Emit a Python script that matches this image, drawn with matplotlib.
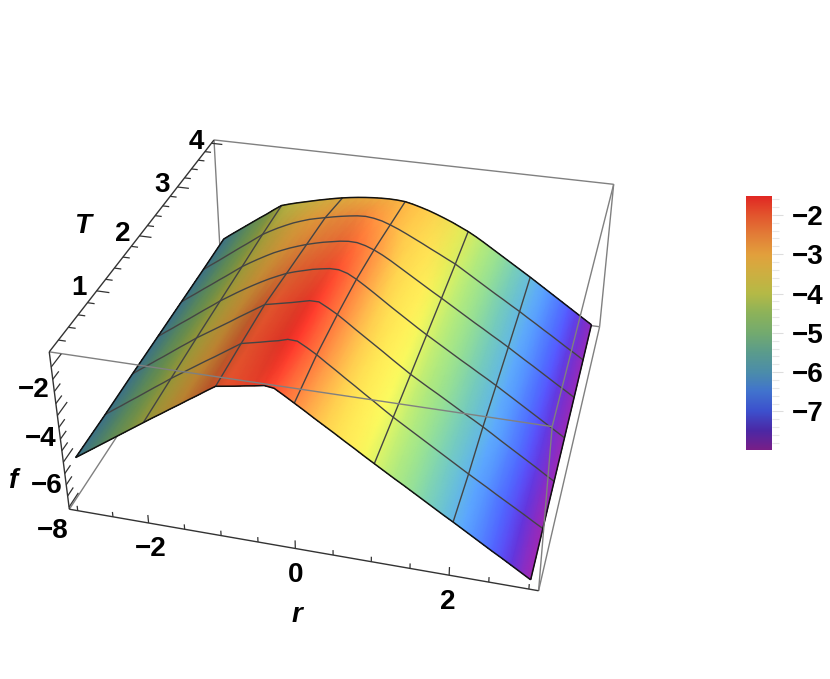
import matplotlib
matplotlib.use("Agg")
import matplotlib.pyplot as plt
import numpy as np
from matplotlib.cm import ScalarMappable
from matplotlib.colors import LinearSegmentedColormap, Normalize
from mpl_toolkits.mplot3d import proj3d
from mpl_toolkits.mplot3d.art3d import Line3DCollection

plt.rcParams["font.family"] = ["Liberation Sans", "DejaVu Sans"]

r_values = [-3 + 0.125 * i for i in range(49)]
T_values = [0.1, 0.75, 1.4, 2.05, 2.7, 3.35, 4.0]

f_T0 = [-5.98, -5.73, -5.48, -5.23, -4.98, -4.73, -4.48, -4.23, -3.98,
        -3.73, -3.49, -3.24, -3.00, -2.75, -2.51, -2.26, -2.02,
        -1.96, -1.90, -1.83, -1.77, -1.70, -1.75, -1.98, -2.22,
        -2.46, -2.71, -2.95, -3.19, -3.44, -3.68, -3.93, -4.17,
        -4.41, -4.65, -4.88, -5.12, -5.36, -5.60, -5.84, -6.07,
        -6.31, -6.55, -6.79, -7.03, -7.26, -7.50, -7.74, -7.98]
f_T1 = [-6.00, -5.74, -5.49, -5.23, -4.98, -4.72, -4.46, -4.21, -3.95,
        -3.71, -3.47, -3.23, -2.99, -2.76, -2.52, -2.28, -2.04,
        -1.96, -1.88, -1.79, -1.71, -1.60, -1.62, -1.83, -2.06,
        -2.33, -2.59, -2.86, -3.12, -3.39, -3.65, -3.92, -4.18,
        -4.42, -4.66, -4.90, -5.14, -5.38, -5.62, -5.86, -6.10,
        -6.33, -6.56, -6.80, -7.03, -7.26, -7.49, -7.73, -7.96]
f_T2 = [-5.98, -5.72, -5.47, -5.21, -4.96, -4.70, -4.44, -4.19, -3.93,
        -3.70, -3.47, -3.24, -3.01, -2.77, -2.54, -2.31, -2.08,
        -2.00, -1.92, -1.84, -1.75, -1.66, -1.66, -1.86, -2.08,
        -2.34, -2.61, -2.87, -3.13, -3.39, -3.66, -3.92, -4.18,
        -4.41, -4.64, -4.86, -5.09, -5.32, -5.55, -5.77, -6.00,
        -6.24, -6.49, -6.73, -6.97, -7.21, -7.45, -7.70, -7.94]
f_T3 = [-5.98, -5.72, -5.47, -5.21, -4.96, -4.70, -4.44, -4.19, -3.93,
        -3.70, -3.47, -3.25, -3.04, -2.84, -2.65, -2.48, -2.32,
        -2.20, -2.10, -2.00, -1.93, -1.87, -1.87, -1.98, -2.18,
        -2.42, -2.67, -2.93, -3.19, -3.44, -3.69, -3.94, -4.18,
        -4.41, -4.64, -4.87, -5.10, -5.32, -5.55, -5.77, -6.00,
        -6.24, -6.48, -6.72, -6.96, -7.20, -7.44, -7.68, -7.92]
f_T4 = [-5.98, -5.72, -5.47, -5.21, -4.96, -4.70, -4.45, -4.19, -3.93,
        -3.71, -3.50, -3.30, -3.11, -2.95, -2.80, -2.67, -2.55,
        -2.45, -2.36, -2.29, -2.22, -2.18, -2.19, -2.28, -2.42,
        -2.60, -2.81, -3.04, -3.27, -3.50, -3.73, -3.96, -4.18,
        -4.41, -4.64, -4.87, -5.10, -5.32, -5.55, -5.77, -6.00,
        -6.24, -6.48, -6.71, -6.95, -7.19, -7.43, -7.66, -7.90]
f_T5 = [-5.98, -5.72, -5.47, -5.21, -4.95, -4.69, -4.44, -4.18, -3.92,
        -3.72, -3.53, -3.36, -3.20, -3.07, -2.95, -2.86, -2.78,
        -2.70, -2.63, -2.57, -2.52, -2.50, -2.54, -2.62, -2.75,
        -2.90, -3.07, -3.25, -3.43, -3.62, -3.80, -3.99, -4.17,
        -4.40, -4.63, -4.86, -5.09, -5.32, -5.54, -5.77, -5.99,
        -6.23, -6.46, -6.70, -6.93, -7.17, -7.41, -7.64, -7.88]
f_T6 = [-5.96, -5.70, -5.45, -5.20, -4.95, -4.70, -4.46, -4.20, -3.96,
        -3.85, -3.75, -3.66, -3.57, -3.48, -3.40, -3.32, -3.25,
        -3.19, -3.14, -3.10, -3.07, -3.05, -3.04, -3.05, -3.08,
        -3.16, -3.26, -3.37, -3.50, -3.64, -3.79, -3.96, -4.13,
        -4.33, -4.55, -4.78, -5.01, -5.24, -5.47, -5.70, -5.93,
        -6.17, -6.41, -6.65, -6.89, -7.13, -7.37, -7.61, -7.85]
f_rows = [f_T0, f_T1, f_T2, f_T3, f_T4, f_T5, f_T6]

r_major = [-2, 0, 2]
T_major = [1, 2, 3, 4]
f_major = [-2, -4, -6, -8]
bar_ticks = [-2, -3, -4, -5, -6, -7]

# colours of the legend bar, from its bottom to its top
bar_f = [-7.98, -7.5, -7, -6.5, -6, -5.5, -5, -4.5, -4, -3.5, -3, -2.5, -2, -1.52]
bar_rgb = ["#781E87", "#4B28A5", "#3C50CD", "#4173CD", "#4B8CAA", "#5A9B8C", "#73AA6E",
           "#8CB25A", "#B4B946", "#CDAF41", "#E2A03C", "#E27D37", "#E2552D", "#E12823"]

# plot box, and where its corners sit in the picture
r_lo, r_hi = -3.12, 3.12
T_lo, T_hi = 0.02, 4.08
f_lo, f_hi = -8.1, -1.39
box_3d = [(r_lo, T_lo, f_hi), (r_lo, T_hi, f_hi), (r_lo, T_lo, f_lo), (r_hi, T_lo, f_lo),
          (r_hi, T_lo, f_hi), (r_hi, T_hi, f_hi), (r_hi, T_hi, f_lo)]
box_px = [(49.3, 351.7), (214, 140), (69.3, 509.3), (539, 590.7),
          (551.7, 426.7), (614, 184.3), (599.3, 326.7)]


def camera_matrix():
    """Projection that puts the box corners where they are in the picture."""
    A, b = [], []
    for (X, Y, Z), (u, v) in zip(box_3d, box_px):
        A.append([X, Y, Z, 1, 0, 0, 0, 0, -u * X, -u * Y, -u * Z])
        b.append(u)
        A.append([0, 0, 0, 0, X, Y, Z, 1, -v * X, -v * Y, -v * Z])
        b.append(v)
    p = np.linalg.lstsq(np.array(A), np.array(b), rcond=None)[0]
    P = np.append(p, 1).reshape(3, 4)
    # third row gives depth 1 - 1/w, growing away from the viewer
    return np.vstack([P[0], P[1], P[2] - [0, 0, 0, 1], P[2]])


def line3d(xs, ys, zs, color, lw, zorder):
    seg = Line3DCollection([np.column_stack([xs, ys, zs])], colors=color, linewidths=lw, zorder=zorder)
    ax.add_collection3d(seg, autolim=False)


def box_line(p, q, color="#808080", lw=1.0, zorder=1):
    line3d([p[0], q[0]], [p[1], q[1]], [p[2], q[2]], color, lw, zorder)


cmap = LinearSegmentedColormap.from_list(
    "bar", [((v - bar_f[0]) / (bar_f[-1] - bar_f[0]), c) for v, c in zip(bar_f, bar_rgb)])
norm = Normalize(bar_f[0], bar_f[-1])

fig = plt.figure(figsize=(8.3, 6.79), dpi=100)
ax = fig.add_axes([0, 0, 1, 1], projection="3d", computed_zorder=False)
M = camera_matrix()
ax.get_proj = lambda: M
ax.apply_aspect = lambda position=None: None
ax.set_axis_off()

R, T = np.meshgrid(r_values, T_values)
F = np.array(f_rows)

# lit colours at the table's points: faces turned to the right are brighter
slope = np.gradient(F, 0.125, axis=1)
light = np.clip(1.08 - 0.135 * slope, 0.78, 1.4)
colors = cmap(norm(F))
colors[..., :3] = np.clip(colors[..., :3] * light[..., None], 0, 1)

ax.plot_surface(R, T, F, color="#888888", rstride=1, cstride=1, shade=False,
                linewidth=0, antialiased=False, zorder=2)

# smooth colours between the table's points, on the same projected grid
u, v, _ = proj3d.proj_transform(R.ravel(), T.ravel(), F.ravel(), M)
shaded = ax.pcolormesh(np.reshape(u, R.shape), np.reshape(v, R.shape), colors,
                       shading="gouraud", zorder=2.1)
shaded.do_3d_projection = lambda: 0

for i in range(1, len(T_values) - 1):
    line3d(R[i], T[i], F[i], "#444444", 1.0, 3)
for j in range(8, 48, 8):
    line3d(R[:, j], T[:, j], F[:, j], "#444444", 1.0, 3)
line3d(R[0], T[0], F[0], "#111111", 1.1, 3)
line3d(R[-1], T[-1], F[-1], "#111111", 1.1, 3)
line3d(R[:, 0], T[:, 0], F[:, 0], "#111111", 1.1, 3)
line3d(R[:, -1], T[:, -1], F[:, -1], "#111111", 1.1, 3)

# hidden behind the surface
box_line((r_lo, T_hi, f_hi), (r_hi, T_hi, f_hi))
box_line((r_hi, T_hi, f_hi), (r_hi, T_hi, f_lo))
box_line((r_lo, T_hi, f_hi), (r_lo, T_hi, f_lo))
box_line((r_lo, T_lo, f_lo), (r_lo, T_hi, f_lo))
box_line((r_lo, T_hi, f_lo), (r_hi, T_hi, f_lo))
box_line((r_hi, T_lo, f_lo), (r_hi, T_hi, f_lo))
# in front of it
box_line((r_lo, T_lo, f_hi), (r_hi, T_lo, f_hi), zorder=4)
box_line((r_hi, T_lo, f_hi), (r_hi, T_lo, f_lo), zorder=4)
box_line((r_hi, T_lo, f_hi), (r_hi, T_hi, f_hi), zorder=4)
# the three axes with ticks
axis_color = "#333333"
box_line((r_lo, T_lo, f_hi), (r_lo, T_lo, f_lo), axis_color, 1.0, 4)
box_line((r_lo, T_lo, f_hi), (r_lo, T_hi, f_hi), axis_color, 1.0, 4)
box_line((r_lo, T_lo, f_lo), (r_hi, T_lo, f_lo), axis_color, 1.0, 4)

for t in np.arange(-3, 3.01, 0.5):
    h = 0.36 if t in r_major else 0.22
    box_line((t, T_lo, f_lo), (t, T_lo, f_lo + h), axis_color, 0.9, 4)
for t in np.arange(0.2, 4.01, 0.2):
    h = 0.18 if round(t, 1) in T_major else 0.1
    box_line((r_lo, t, f_hi), (r_lo + h, t, f_hi), axis_color, 0.9, 4)
for t in np.arange(-8, -1.9, 0.5):
    h = 0.2 if t in f_major else 0.12
    box_line((r_lo, T_lo, t), (r_lo, T_lo + h, t), axis_color, 0.9, 4)

label = dict(fontsize=20, fontweight="bold", ha="center", va="center", color="black", zorder=5)
for t in r_major:
    ax.text(t, T_lo, f_lo - 1.2, str(t).replace("-", "\u2212"), **label)
for t in T_major:
    ax.text(r_lo - 0.25, t, f_hi, str(t), **label)
for t in f_major:
    ax.text(r_lo, T_lo - 0.33, t, str(t).replace("-", "\u2212"), **label)
axis_title = dict(label, fontstyle="italic")
ax.text(0, T_lo, f_lo - 3.05, "r", **axis_title)
ax.text(r_lo - 0.9, 2.05, f_hi, "T", **axis_title)
ax.text(r_lo, T_lo - 0.85, -4.15, "f", **axis_title)

# 2D view of the axes in picture pixels
ax.viewLim.intervalx = (0, 830)
ax.viewLim.intervaly = (679, 0)

# legend bar
cax = fig.add_axes([746 / 830, 1 - 450 / 679, 25.5 / 830, 254 / 679])
cb = fig.colorbar(ScalarMappable(norm=norm, cmap=cmap), cax=cax)
cb.outline.set_visible(False)
cb.set_ticks(bar_ticks)
cb.set_ticklabels([str(t).replace("-", "\u2212") for t in bar_ticks])
cb.set_ticks(np.arange(-7.8, -1.5, 0.2), minor=True)
cax.tick_params(which="major", length=8, width=0.8, color="#dddddd", pad=7)
cax.tick_params(which="minor", length=5, width=0.8, color="#e6e6e6")
for t in cax.get_yticklabels():
    t.set_fontsize(20)
    t.set_fontweight("bold")

fig.savefig("out.png", dpi=100)
